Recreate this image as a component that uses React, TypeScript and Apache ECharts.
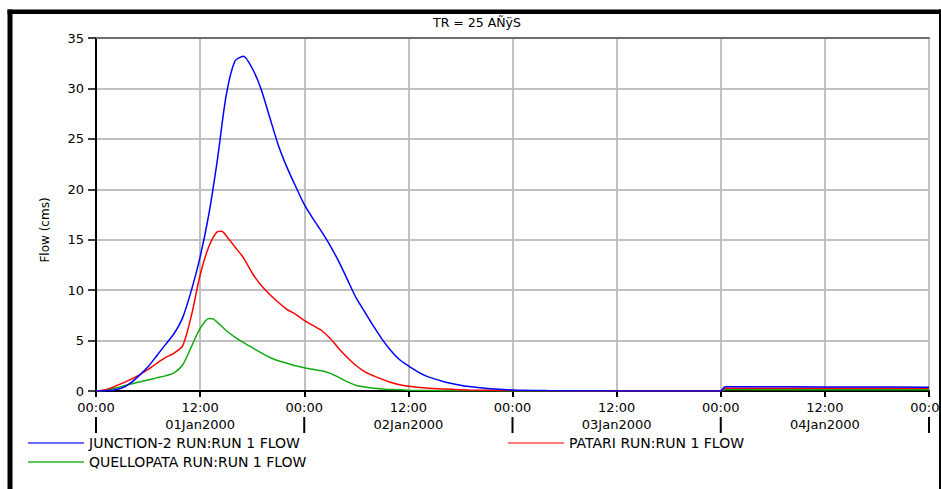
import React, { useEffect, useRef } from "react";
import * as echarts from "echarts";

const titleText = "TR = 25 AÑÿS";
const yAxisName = "Flow (cms)";
const dayLabels = ["01Jan2000", "02Jan2000", "03Jan2000", "04Jan2000"];
const dayBoundaryHours = [0, 24, 48, 72, 96];
const hourTickLabels = ["00:00", "12:00", "00:00", "12:00", "00:00", "12:00", "00:00", "12:00", "00:00"];

const junctionName = "JUNCTION-2 RUN:RUN 1 FLOW";
const patariName = "PATARI RUN:RUN 1 FLOW";
const quellopataName = "QUELLOPATA RUN:RUN 1 FLOW";

// hours since 01Jan2000 00:00
const junctionHours = [0, 1, 2, 3, 4, 5, 6, 7, 8, 9, 10, 11, 12, 13, 14, 15, 16, 17, 18, 19, 20, 21, 22, 23, 24, 25, 26, 27, 28, 29, 30, 31, 32, 33, 34, 35, 36, 37, 38, 39, 40, 41, 42, 43, 44, 46, 48, 52, 56, 60, 66, 72, 72.5, 80, 88, 96];
const junctionFlow = [0, 0.02, 0.1, 0.3, 0.8, 1.55, 2.4, 3.5, 4.6, 5.7, 7.3, 10.0, 13.3, 17.5, 23.0, 29.3, 32.7, 33.2, 32.0, 30.0, 27.2, 24.4, 22.2, 20.3, 18.5, 17.1, 15.8, 14.4, 12.8, 11.0, 9.2, 7.8, 6.4, 5.1, 4.0, 3.1, 2.5, 1.95, 1.5, 1.2, 0.95, 0.75, 0.58, 0.45, 0.35, 0.2, 0.1, 0.04, 0.02, 0.01, 0.01, 0.01, 0.43, 0.41, 0.39, 0.38];

const patariHours = [0, 1, 2, 3, 4, 5, 6, 7, 8, 9, 10, 11, 12, 13, 14, 14.5, 15, 16, 17, 18, 19, 20, 21, 22, 23, 24, 25, 26, 27, 28, 29, 30, 31, 32, 33, 34, 35, 36, 38, 40, 43, 48, 56, 60, 72, 72.5, 84, 96];
const patariFlow = [0, 0.1, 0.4, 0.75, 1.15, 1.6, 2.15, 2.75, 3.3, 3.75, 4.5, 7.5, 11.5, 14.3, 15.8, 15.85, 15.4, 14.3, 13.2, 11.7, 10.5, 9.6, 8.8, 8.1, 7.6, 7.0, 6.5, 6.0, 5.2, 4.2, 3.3, 2.5, 1.9, 1.5, 1.15, 0.85, 0.62, 0.48, 0.3, 0.2, 0.1, 0.04, 0.01, 0, 0, 0.28, 0.27, 0.27];

const quellopataHours = [0, 1, 2, 3, 4, 5, 6, 7, 8, 9, 10, 11, 12, 13, 13.5, 14, 15, 16, 17, 18, 19, 20, 21, 22, 23, 24, 25, 26, 27, 28, 29, 30, 31, 32, 33, 34, 36, 40, 48, 56, 72, 72.5, 84, 96];
const quellopataFlow = [0, 0.08, 0.25, 0.45, 0.7, 0.9, 1.1, 1.3, 1.5, 1.8, 2.6, 4.4, 6.2, 7.2, 7.15, 6.8, 6.0, 5.35, 4.8, 4.3, 3.8, 3.35, 3.0, 2.75, 2.5, 2.3, 2.15, 2.0, 1.75, 1.35, 0.9, 0.55, 0.4, 0.28, 0.2, 0.14, 0.08, 0.03, 0.01, 0, 0, 0.14, 0.13, 0.13];

const FONT = "DejaVu Sans";

function pairs(h: number[], v: number[]) {
  return h.map((x, i) => [x, v[i]]);
}

export default function App() {
  const ref = useRef<HTMLDivElement>(null);
  useEffect(() => {
    if (!ref.current) return;
    const chart = echarts.init(ref.current, undefined, { renderer: "svg" });
    const legendText = { fontFamily: FONT, fontSize: 14, color: "#000" };
    const lineSeries = (name: string, data: number[][], color: string) => ({
      type: "line",
      name,
      data,
      xAxisIndex: 0,
      yAxisIndex: 0,
      showSymbol: false,
      smooth: 0.25,
      lineStyle: { color, width: 1.5 },
      itemStyle: { color },
    });
    chart.setOption({
      animation: false,
      backgroundColor: "#fff",
      textStyle: { fontFamily: FONT },
      grid: { left: 96, right: 12, top: 38, bottom: 98, containLabel: false, outerBoundsMode: "none" },
      legend: [
        {
          data: [{ name: junctionName, itemStyle: { color: "#6a6aff" } }],
          left: 28, top: 436, padding: 0, icon: "rect", itemWidth: 56, itemHeight: 2,
          textStyle: legendText, selectedMode: false,
        },
        {
          data: [{ name: patariName, itemStyle: { color: "#ff7a7a" } }],
          left: 508, top: 436, padding: 0, icon: "rect", itemWidth: 56, itemHeight: 2,
          textStyle: legendText, selectedMode: false,
        },
        {
          data: [{ name: quellopataName, itemStyle: { color: "#5cc85c" } }],
          left: 28, top: 455, padding: 0, icon: "rect", itemWidth: 56, itemHeight: 2,
          textStyle: legendText, selectedMode: false,
        },
      ],
      xAxis: [
        {
          type: "value", min: 0, max: 96, interval: 12, position: "bottom",
          axisLine: { show: true, lineStyle: { color: "#000", width: 2 } },
          axisTick: { show: true, length: 6, lineStyle: { color: "#000", width: 2 } },
          axisLabel: {
            margin: 10, fontSize: 13, color: "#000", fontFamily: FONT,
            formatter: (v: number) => hourTickLabels[Math.round(v / 12)],
          },
          splitLine: { show: true, lineStyle: { color: "#c0c0c0", width: 2 } },
        },
        {
          type: "category", data: dayLabels, position: "bottom", offset: 26, boundaryGap: true,
          axisLine: { show: false },
          axisTick: { show: false },
          axisLabel: { margin: 1, interval: 0, hideOverlap: false, fontSize: 13, color: "#000", fontFamily: FONT },
          splitLine: { show: false },
        },
        {
          type: "value", min: 0, max: 96, position: "top",
          axisLine: { show: true, lineStyle: { color: "#6e6e6e", width: 2 } },
          axisTick: { show: false }, axisLabel: { show: false }, splitLine: { show: false },
        },
      ],
      yAxis: [
        {
          type: "value", min: 0, max: 35, interval: 5,
          axisLine: { show: true, lineStyle: { color: "#000", width: 2 } },
          axisTick: { show: true, length: 8, lineStyle: { color: "#000", width: 1.5 } },
          axisLabel: { margin: 12, fontSize: 13, color: "#000", fontFamily: FONT },
          splitLine: { show: true, lineStyle: { color: "#c0c0c0", width: 2 } },
        },
        {
          type: "value", min: 0, max: 35, position: "right",
          axisLine: { show: true, lineStyle: { color: "#000", width: 2 } },
          axisTick: { show: false }, axisLabel: { show: false }, splitLine: { show: false },
        },
      ],
      series: [
        lineSeries(quellopataName, pairs(quellopataHours, quellopataFlow), "#11aa11"),
        lineSeries(patariName, pairs(patariHours, patariFlow), "#ff0000"),
        lineSeries(junctionName, pairs(junctionHours, junctionFlow), "#0000ff"),
        {
          type: "custom",
          name: "day-separators",
          xAxisIndex: 0,
          yAxisIndex: 0,
          clip: false,
          silent: true,
          data: dayBoundaryHours.map((h) => [h, 0]),
          renderItem: (params: any, api: any) => {
            const p = api.coord([api.value(0), 0]);
            return {
              type: "line",
              shape: { x1: p[0], y1: p[1] + 26, x2: p[0], y2: p[1] + 42 },
              style: { stroke: "#000", lineWidth: 2 },
            };
          },
        },
      ],
      graphic: [
        { type: "rect", shape: { x: 7.5, y: 9.5, width: 5, height: 480 }, style: { fill: "#000" }, z: 100 },
        { type: "rect", shape: { x: 7.5, y: 9.5, width: 934, height: 4.5 }, style: { fill: "#000" }, z: 100 },
        { type: "rect", shape: { x: 939, y: 9.5, width: 2, height: 480 }, style: { fill: "#000" }, z: 100 },
        {
          type: "text", x: 477, y: 22,
          style: { text: titleText, font: `12.5px "${FONT}"`, fill: "#000", align: "center", verticalAlign: "middle" },
        },
        {
          type: "text", x: 45, y: 230, rotation: Math.PI / 2,
          style: { text: yAxisName, font: `12px "${FONT}"`, fill: "#000", align: "center", verticalAlign: "middle" },
        },
      ],
    });
    return () => chart.dispose();
  }, []);
  return <div ref={ref} style={{ position: "absolute", left: 0, top: 0, width: 941, height: 489 }} />;
}
